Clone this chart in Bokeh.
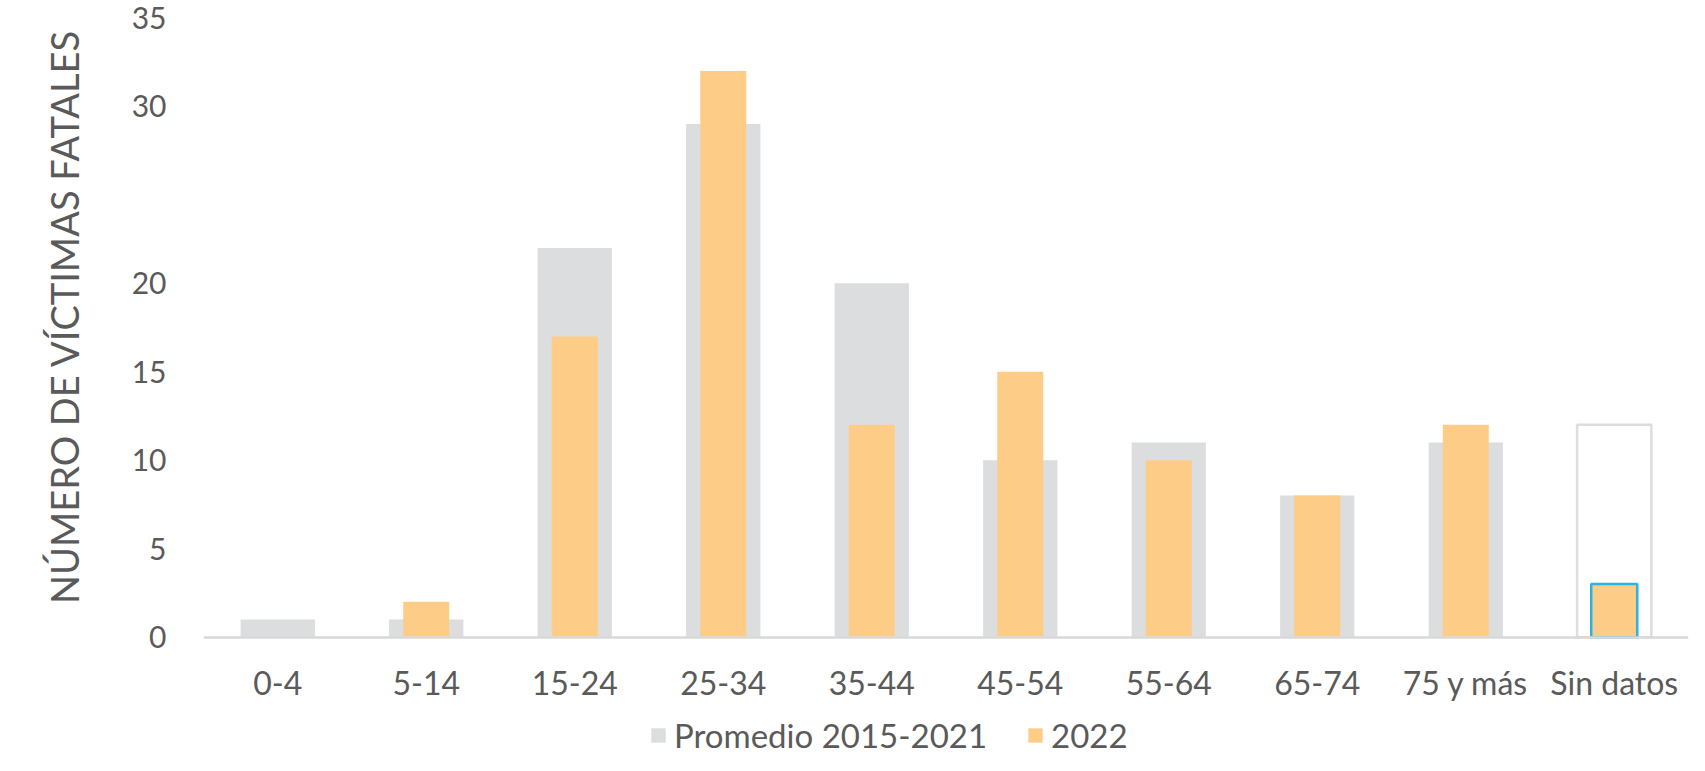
from bokeh.plotting import figure
from bokeh.models import FactorRange, Range1d, FixedTicker, Legend, LegendItem, ColumnDataSource, Title
from bokeh.embed import file_html
from bokeh.resources import INLINE

categories = ["0-4", "5-14", "15-24", "25-34", "35-44", "45-54", "55-64", "65-74", "75 y más", "Sin datos"]
promedio = [1, 1, 22, 29, 20, 10, 11, 8, 11, 12]
v2022 = [0, 2, 17, 32, 12, 15, 10, 8, 12, 3]
y_ticks = [0, 5, 10, 15, 20, 30, 35]
series_labels = ["Promedio 2015-2021", "2022"]
y_title = "NÚMERO DE VÍCTIMAS FATALES"
special = "Sin datos"

GRAY = "#dcdddf"
ORANGE = "#fdcd87"
BLUE = "#2bb3e3"
TEXT = "#5a5a5a"
FONT = "Lato"
NONE = "rgba(0,0,0,0)"

src_p = ColumnDataSource(dict(
    x=categories, top=promedio,
    fill=["white" if c == special else GRAY for c in categories],
    line=[GRAY if c == special else NONE for c in categories],
))
src_y = ColumnDataSource(dict(
    x=categories, top=v2022,
    fill=[ORANGE for c in categories],
    line=[BLUE if c == special else NONE for c in categories],
))

p = figure(x_range=FactorRange(*categories, range_padding=0),
           y_range=Range1d(-6.69, 35.42),
           width=1689, height=755, output_backend="svg", toolbar_location=None,
           min_border_left=201, min_border_right=1, min_border_top=10, min_border_bottom=0)

r1 = p.vbar(x="x", top="top", width=0.5, source=src_p, fill_color="fill", line_color="line", line_width=2.5)
r2 = p.vbar(x="x", top="top", width=0.31, source=src_y, fill_color="fill", line_color="line", line_width=2.5)

p.outline_line_color = None
p.xgrid.grid_line_color = None
p.ygrid.grid_line_color = None

p.yaxis.ticker = FixedTicker(ticks=y_ticks)
p.yaxis.axis_line_color = None
p.yaxis.major_tick_line_color = None
p.yaxis.minor_tick_line_color = None
p.yaxis.major_label_standoff = 31
p.yaxis.major_label_text_font = FONT
p.yaxis.major_label_text_font_size = "30px"
p.yaxis.major_label_text_color = TEXT

ytitle = Title(text=y_title, align="right", offset=19, standoff=80, vertical_align="top",
               text_font=FONT, text_font_size="38px", text_font_style="normal",
               text_color=TEXT)
p.add_layout(ytitle, "left")

p.xaxis.fixed_location = 0
p.xaxis.axis_line_color = "#d9d9d9"
p.xaxis.axis_line_width = 2.5
p.xaxis.major_tick_line_color = None
p.xaxis.minor_tick_line_color = None
p.xaxis.major_label_standoff = 20
p.xaxis.major_label_text_font = FONT
p.xaxis.major_label_text_font_size = "32px"
p.xaxis.major_label_text_color = TEXT

legend = Legend(items=[LegendItem(label=series_labels[0], renderers=[r1]),
                       LegendItem(label=series_labels[1], renderers=[r2])],
                orientation="horizontal", location=(446, 0),
                glyph_width=18, glyph_height=18, label_standoff=7, spacing=39,
                padding=0, margin=0, border_line_color=None, background_fill_alpha=0,
                label_text_font=FONT, label_text_font_size="33px", label_text_color=TEXT)
p.add_layout(legend, "center")

open("out.html", "w").write(file_html(p, INLINE))
